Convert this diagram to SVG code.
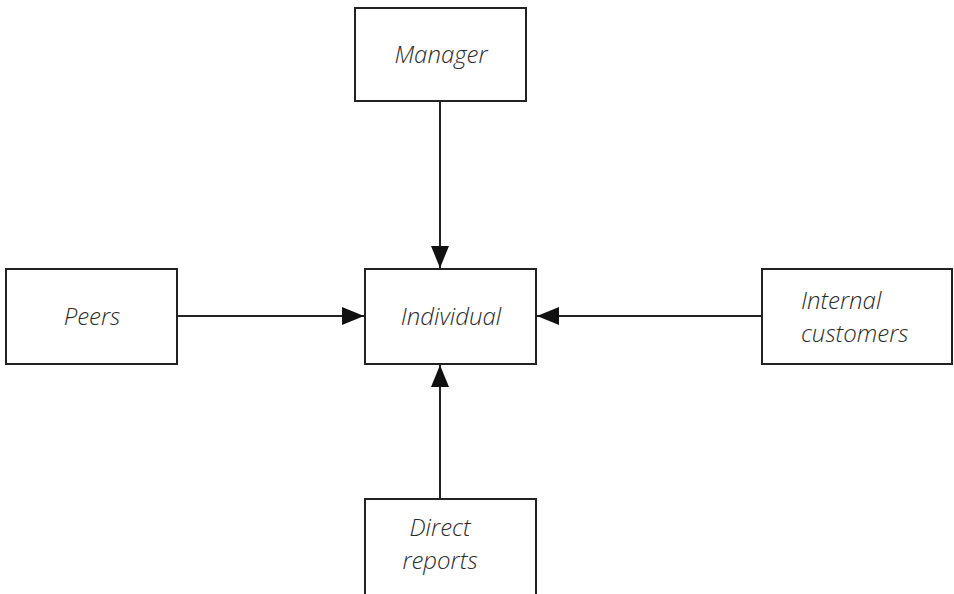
<svg xmlns="http://www.w3.org/2000/svg" width="954" height="594" viewBox="0 0 954 594">
<defs>
<style>
.box{fill:#fff;stroke:#222;stroke-width:2}
.t{font-family:"Open Sans","Liberation Sans",sans-serif;font-style:italic;font-weight:300;font-size:24px;fill:#2a2a2a}
.c{stroke:#222;stroke-width:2;fill:none}
</style>
<marker id="ah" markerWidth="24" markerHeight="18" refX="22" refY="9" orient="auto" markerUnits="userSpaceOnUse">
<path d="M0,0 L22,9 L0,18 Z" fill="#111"/>
</marker>
</defs>
<rect width="954" height="594" fill="#fff"/>
<g id="connectors">
<line class="c" x1="440" y1="101" x2="440" y2="268" marker-end="url(#ah)"/>
<line class="c" x1="177" y1="316" x2="364" y2="316" marker-end="url(#ah)"/>
<line class="c" x1="762" y1="316" x2="537" y2="316" marker-end="url(#ah)"/>
<line class="c" x1="440" y1="499" x2="440" y2="365" marker-end="url(#ah)"/>
</g>
<g id="manager">
<rect class="box" x="355" y="8" width="171" height="93"/>
<text class="t" x="441" y="63" text-anchor="middle">Manager</text>
</g>
<g id="peers">
<rect class="box" x="6" y="269" width="171" height="95"/>
<text class="t" x="92" y="325" text-anchor="middle">Peers</text>
</g>
<g id="individual">
<rect class="box" x="365" y="269" width="171" height="95"/>
<text class="t" x="451" y="325" text-anchor="middle">Individual</text>
</g>
<g id="internal">
<rect class="box" x="762" y="269" width="190" height="95"/>
<text class="t" x="801" y="309">Internal</text>
<text class="t" x="801" y="342">customers</text>
</g>
<g id="direct">
<rect class="box" x="365" y="499" width="171" height="100"/>
<text class="t" x="440" y="536" text-anchor="middle">Direct</text>
<text class="t" x="440" y="569" text-anchor="middle">reports</text>
</g>
</svg>
